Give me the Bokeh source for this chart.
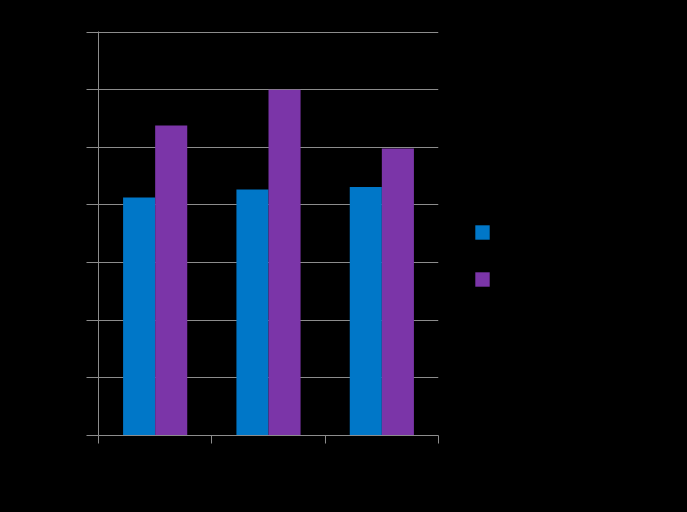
from bokeh.plotting import figure
from bokeh.models import (FixedTicker, LinearAxis, Legend, LegendItem, ColumnDataSource, Range1d)
from bokeh.embed import file_html
from bokeh.resources import INLINE

categories = ["Category 1", "Category 2", "Category 3"]
series_names = ["Series 1", "Series 2"]
series1 = [41.3, 42.7, 43.1]
series2 = [53.8, 60.0, 49.8]
y_ticks = [0, 10, 20, 30, 40, 50, 60, 70]
colors = ["#0077C8", "#7B35A8"]

p = figure(frame_width=340, frame_height=404, output_backend="svg", toolbar_location=None,
           x_range=Range1d(0, len(categories)), y_range=Range1d(0, 70.1),
           min_border_left=98, min_border_right=0, min_border_top=31, min_border_bottom=77,
           background_fill_color="#000000", border_fill_color="#000000")
p.outline_line_color = None

centers = [i + 0.5 for i in range(len(categories))]
bw = 0.283
src = ColumnDataSource(dict(
    x1=[c - bw / 2 for c in centers], x2=[c + bw / 2 for c in centers],
    s1=series1, s2=series2))
r1 = p.vbar(x="x1", top="s1", bottom=0, width=bw, source=src, fill_color=colors[0], line_color=None)
r2 = p.vbar(x="x2", top="s2", bottom=0, width=bw, source=src, fill_color=colors[1], line_color=None)

grid_c = "#8c8c8c"
boundaries = list(range(len(categories) + 1))
xa = p.xaxis[0]
xa.ticker = FixedTicker(ticks=boundaries)
xa.major_label_overrides = {b: "" for b in boundaries}
xa.axis_line_color = grid_c
xa.major_tick_line_color = grid_c
xa.major_tick_out = 8
xa.major_tick_in = 0
xa.minor_tick_line_color = None
xa.major_label_standoff = 0

xlab = LinearAxis(ticker=FixedTicker(ticks=centers),
                  major_label_overrides={c: n for c, n in zip(centers, categories)})
xlab.axis_line_color = None
xlab.major_tick_line_color = None
xlab.minor_tick_line_color = None
xlab.major_label_text_color = "#000000"
xlab.major_label_text_font = "Liberation Sans"
xlab.major_label_text_font_size = "13px"
xlab.major_label_standoff = 2
p.add_layout(xlab, "below")

ya = p.yaxis[0]
ya.ticker = FixedTicker(ticks=y_ticks)
ya.axis_line_color = grid_c
ya.major_tick_line_color = grid_c
ya.major_tick_out = 12
ya.major_tick_in = 0
ya.minor_tick_line_color = None
ya.major_label_text_color = "#000000"
ya.major_label_text_font = "Liberation Sans"
ya.major_label_text_font_size = "13px"
ya.major_label_standoff = 4

p.xgrid.grid_line_color = None
p.ygrid.ticker = FixedTicker(ticks=y_ticks)
p.ygrid.grid_line_color = grid_c
p.ygrid.grid_line_width = 1

legend = Legend(items=[LegendItem(label=series_names[0], renderers=[r1]),
                       LegendItem(label=series_names[1], renderers=[r2])],
                location=(35, 147))
legend.glyph_width = 18
legend.glyph_height = 18
legend.label_height = 18
legend.spacing = 29
legend.padding = 0
legend.margin = 0
legend.label_standoff = 10
legend.label_text_color = "#000000"
legend.label_text_font = "Liberation Sans"
legend.label_text_font_size = "13px"
legend.background_fill_alpha = 0
legend.border_line_color = None
p.add_layout(legend, "right")

tmpl = """{% block preamble %}<style>html, body { background: #000000; overflow: hidden; }</style>{% endblock %}"""
open("out.html", "w").write(file_html(p, INLINE, template=tmpl))
